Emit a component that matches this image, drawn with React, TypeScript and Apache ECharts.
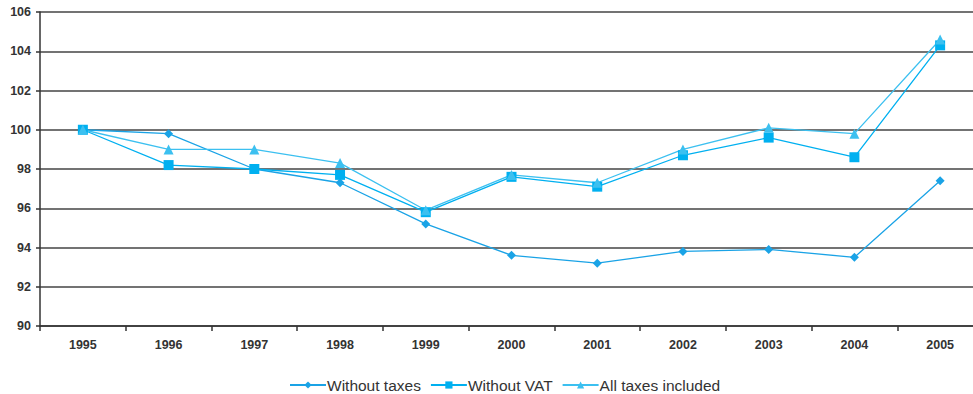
import React, { useEffect, useRef } from "react";
import * as echarts from "echarts";

const years = ["1995", "1996", "1997", "1998", "1999", "2000", "2001", "2002", "2003", "2004", "2005"];
const withoutTaxes = [100, 99.8, 98.0, 97.3, 95.2, 93.6, 93.2, 93.8, 93.9, 93.5, 97.4];
const withoutVat = [100, 98.2, 98.0, 97.7, 95.8, 97.6, 97.1, 98.7, 99.6, 98.6, 104.3];
const allTaxes = [100, 99.0, 99.0, 98.3, 95.9, 97.7, 97.3, 99.0, 100.1, 99.8, 104.6];

const FONT = "Liberation Sans, Arial, sans-serif";

export default function App() {
  const ref = useRef<HTMLDivElement>(null);

  useEffect(() => {
    if (!ref.current) return;
    const chart = echarts.init(ref.current, undefined, { renderer: "svg" });
    const mk = (name: string, data: number[], color: string, symbol: string, size: number) => ({
      name,
      type: "line",
      data,
      symbol,
      symbolSize: size,
      showAllSymbol: true,
      lineStyle: { color, width: 1.3 },
      itemStyle: { color },
    });
    chart.setOption({
      animation: false,
      backgroundColor: "#ffffff",
      textStyle: { fontFamily: FONT },
      grid: { left: 40, right: 2, top: 12, bottom: 68 },
      legend: {
        top: 372,
        left: 284,
        itemWidth: 36,
        itemHeight: 9,
        itemGap: 9,
        textStyle: { fontFamily: FONT, fontSize: 15.5, color: "#333333", padding: [0, 0, 0, -4] },
        data: ["Without taxes", "Without VAT", "All taxes included"],
      },
      xAxis: {
        type: "category",
        data: years,
        boundaryGap: true,
        axisLine: { lineStyle: { color: "#333333", width: 1.5 } },
        axisTick: { show: true, inside: false, length: 5, lineStyle: { color: "#333333", width: 1.5 } },
        axisLabel: { fontFamily: FONT, fontSize: 12.5, fontWeight: "bold", color: "#333333", margin: 12 },
      },
      yAxis: {
        type: "value",
        min: 90,
        max: 106,
        interval: 2,
        axisLine: { show: true, lineStyle: { color: "#333333", width: 1.5 } },
        axisTick: { show: true, length: 4, lineStyle: { color: "#333333", width: 1.5 } },
        splitLine: { show: true, lineStyle: { color: "#444444", width: 1.5 } },
        axisLabel: { fontFamily: FONT, fontSize: 12.5, fontWeight: "bold", color: "#333333", margin: 9 },
      },
      series: [
        mk("Without taxes", withoutTaxes, "#1aa3e6", "diamond", 9),
        mk("Without VAT", withoutVat, "#00b0f0", "rect", 10),
        mk("All taxes included", allTaxes, "#3cc0f0", "triangle", 10),
      ],
    });
    return () => chart.dispose();
  }, []);

  return (
    <div style={{ position: "fixed", left: 0, top: 0, width: 973, height: 394, overflow: "hidden", background: "#fff" }}>
      <div ref={ref} style={{ width: 985, height: 394 }} />
    </div>
  );
}
